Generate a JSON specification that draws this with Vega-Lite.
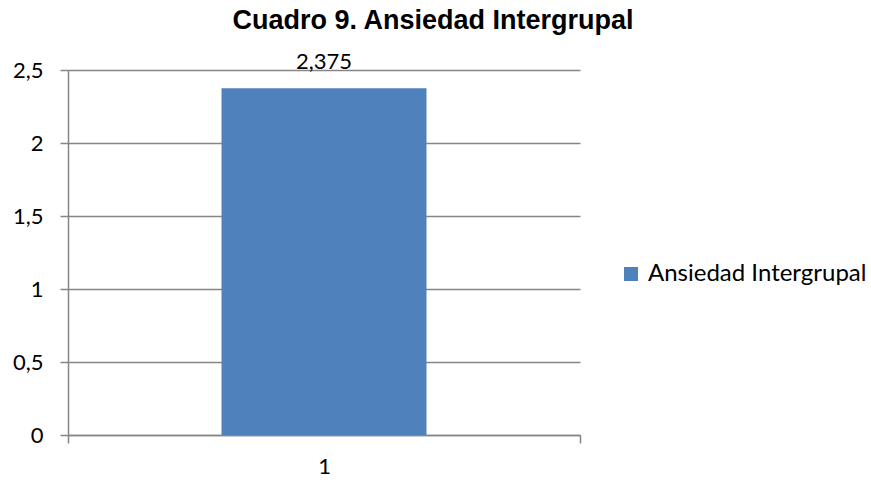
{
  "$schema": "https://vega.github.io/schema/vega-lite/v6.json",
  "width": 512,
  "height": 365,
  "autosize": "none",
  "padding": {"left": 68, "top": 70, "right": 291, "bottom": 45},
  "background": "white",
  "config": {
    "view": {"stroke": null},
    "locale": {"number": {"decimal": ",", "thousands": ".", "grouping": [3], "currency": ["", " €"]}},
    "font": "Lato"
  },
  "title": {
    "text": "Cuadro 9. Ansiedad Intergrupal",
    "font": "Liberation Sans",
    "fontSize": 27,
    "fontWeight": "bold",
    "color": "#000000",
    "anchor": "middle",
    "frame": "group",
    "baseline": "alphabetic",
    "dx": 109,
    "dy": 5,
    "offset": 0
  },
  "data": {"values": [{"cat": 1, "value": 2.375, "series": "Ansiedad Intergrupal"}]},
  "layer": [
    {
      "mark": {"type": "bar", "size": 205, "color": "#4F81BD"},
      "encoding": {
        "x": {
          "field": "cat",
          "type": "quantitative",
          "scale": {"domain": [0.5, 1.5], "nice": false, "zero": false, "padding": 0},
          "axis": {
            "title": null,
            "values": [0.5, 1, 1.5],
            "grid": false,
            "domainColor": "#868686",
            "domainWidth": 1.5,
            "tickColor": "#868686",
            "tickWidth": 1.5,
            "tickSize": 8,
            "tickOpacity": {"condition": {"test": "datum.value == 1", "value": 0}, "value": 1},
            "labelExpr": "datum.value == 1 ? '1' : ''",
            "labelFont": "Lato",
            "labelFontSize": 22,
            "labelColor": "#000000",
            "labelPadding": 13
          }
        },
        "y": {
          "field": "value",
          "type": "quantitative",
          "scale": {"domain": [0, 2.5], "nice": false},
          "axis": {
            "title": null,
            "values": [0, 0.5, 1, 1.5, 2, 2.5],
            "format": "~g",
            "grid": true,
            "gridColor": "#868686",
            "gridWidth": 1.5,
            "domainColor": "#868686",
            "domainWidth": 1.5,
            "tickColor": "#868686",
            "tickWidth": 1.5,
            "tickSize": 8,
            "labelFont": "Lato",
            "labelFontSize": 22,
            "labelColor": "#000000",
            "labelPadding": 17
          }
        },
        "color": {
          "field": "series",
          "type": "nominal",
          "scale": {"range": ["#4F81BD"]},
          "legend": {
            "title": null,
            "orient": "none",
            "legendX": 551,
            "legendY": 192,
            "symbolType": "square",
            "symbolSize": 196,
            "symbolStrokeWidth": 0,
            "labelFont": "Lato",
            "labelFontSize": 24,
            "labelColor": "#000000",
            "labelOffset": 5,
            "labelLimit": 0
          }
        }
      }
    },
    {
      "mark": {"type": "text", "dy": -19, "baseline": "alphabetic", "fontSize": 22, "font": "Lato", "color": "#000000"},
      "encoding": {
        "x": {"field": "cat", "type": "quantitative"},
        "y": {"field": "value", "type": "quantitative"},
        "text": {"field": "value", "type": "quantitative", "format": ".3~f"}
      }
    }
  ]
}
